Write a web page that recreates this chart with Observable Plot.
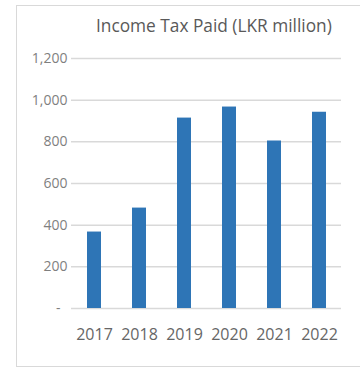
<!DOCTYPE html>
<html>
<head>
<meta charset="utf-8">
<script src="https://cdn.jsdelivr.net/npm/d3@7"></script>
<script src="https://cdn.jsdelivr.net/npm/@observablehq/plot@0.6"></script>
<style>
  html, body { margin: 0; padding: 0; background: #fff; }
  body { width: 360px; height: 368px; position: relative; overflow: hidden; font-family: "Open Sans", sans-serif; }
  #frame { position: absolute; left: 16px; top: 5px; width: 360px; height: 362px; border: 1.5px solid #d9d9d9; box-sizing: border-box; }
  #title { position: absolute; left: 96px; top: 14px; font-size: 17.3px; color: #595959; white-space: nowrap; }
  #chart { position: absolute; left: 0; top: 45px; }
</style>
</head>
<body>
<div id="frame"></div>
<div id="title">Income Tax Paid (LKR million)</div>
<div id="chart"></div>
<script>
const years = ["2017", "2018", "2019", "2020", "2021", "2022"];
const taxPaid = [367, 482, 914, 967, 804, 942];
const yTicks = [0, 200, 400, 600, 800, 1000, 1200];

const data = years.map((y, i) => ({year: y, value: taxPaid[i]}));
const fmt = d3.format(",");

const plot = Plot.plot({
  width: 360,
  height: 300,
  marginLeft: 71,
  marginRight: 19,
  marginTop: 13,
  marginBottom: 37,
  style: {fontFamily: "Open Sans, sans-serif", background: "transparent"},
  x: {domain: years, paddingInner: 0.69, paddingOuter: 0.345, label: null},
  y: {domain: [0, 1200], label: null},
  marks: [
    Plot.ruleY(yTicks, {stroke: "#d9d9d9", strokeWidth: 1.5}),
    Plot.barY(data, {x: "year", y: "value", fill: "#2e75b6"}),
    Plot.axisY(yTicks, {tickSize: 0, tickPadding: 4, fontSize: 14, fill: "#7f7f7f", label: null,
      tickFormat: d => d === 0 ? "-\u2002" : fmt(d)}),
    Plot.axisX({tickSize: 0, tickPadding: 20, fontSize: 16, fill: "#666666", label: null})
  ]
});
document.getElementById("chart").appendChild(plot);
</script>
</body>
</html>
